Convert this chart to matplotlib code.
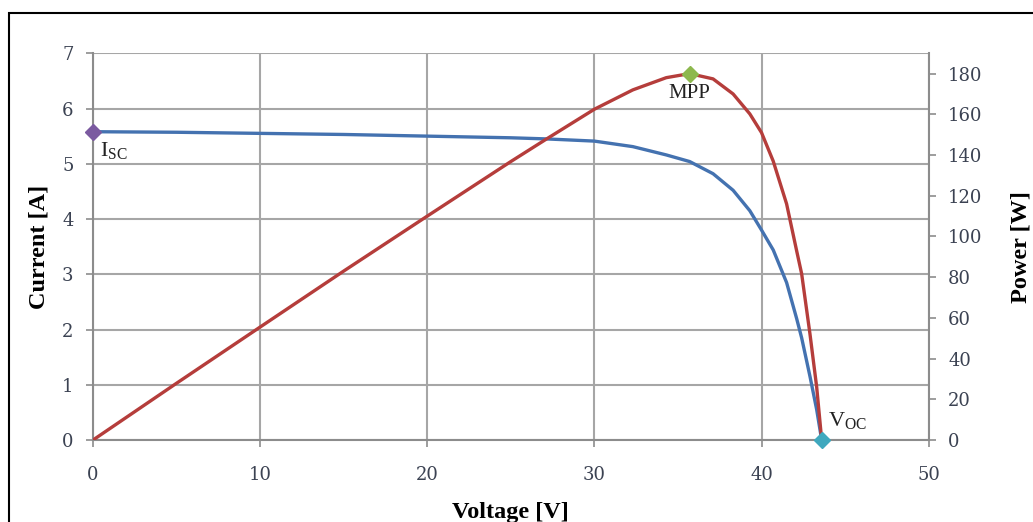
import matplotlib.pyplot as plt
from matplotlib.patches import Rectangle

plt.rcParams['font.family'] = ['Liberation Serif', 'DejaVu Serif']
plt.rcParams['mathtext.fontset'] = 'custom'
plt.rcParams['mathtext.rm'] = 'Liberation Serif'

# values
voltage = [0, 5, 10, 15, 20, 25, 27.1, 30, 32.3, 34.3, 35.7, 37.1, 38.3, 39.3,
           40, 40.7, 41.5, 42.1, 42.4, 42.9, 43.3, 43.6]
current = [5.58, 5.57, 5.55, 5.53, 5.50, 5.47, 5.45, 5.41, 5.31, 5.16, 5.04, 4.82,
           4.52, 4.15, 3.80, 3.44, 2.85, 2.20, 1.85, 1.15, 0.55, 0]
power = [0, 27.9, 55.5, 83, 110, 136.8, 147.7, 162.5, 172, 178, 180, 177.4,
         170, 160.2, 151, 137, 116, 93, 81.7, 52, 26, 0]

isc = (0, 5.58)
mpp = (35.7, 180)
voc = (43.6, 0)

tick_color = '#3b4252'
grid_color = '#a6a6a6'
tick_font = ['DejaVu Serif']

fig = plt.figure(figsize=(10.33, 5.22), dpi=100)
ax = fig.add_axes([0.090, 0.157, 0.809, 0.741])
ax2 = ax.twinx()

# border around the whole chart
fig.patches.append(Rectangle((9 / 1033, -0.1), 1.2, 1 - 13 / 522 + 0.1,
                             transform=fig.transFigure, fill=False,
                             edgecolor='black', linewidth=1.5))

ax.plot(voltage, current, color='#4472b0', linewidth=2.4, zorder=3,
        solid_joinstyle='round')
ax2.plot(voltage, power, color='#b53d3b', linewidth=2.4, zorder=3,
         solid_joinstyle='round')

ax.plot(*isc, marker='D', color='#7b5aa0', markersize=8, clip_on=False, zorder=5)
ax2.plot(*mpp, marker='D', color='#8db84e', markersize=8, clip_on=False, zorder=5)
ax2.plot(*voc, marker='D', color='#3fa8be', markersize=8, clip_on=False, zorder=5)

ax.text(0.45, 5.42, r'I$_{\mathrm{SC}}$', fontsize=16, va='top', ha='left', color='#222222')
ax2.text(mpp[0], 175, 'MPP', fontsize=15, va='top', ha='center', color='#222222')
ax2.text(44.0, 4, r'V$_{\mathrm{OC}}$', fontsize=16, va='bottom', ha='left', color='#222222')

ax.set_xlim(0, 50)
ax.set_ylim(0, 7)
ax2.set_ylim(0, 190)
ax.set_xticks(range(0, 51, 10))
ax.set_yticks(range(0, 8))
ax2.set_yticks(range(0, 181, 20))

ax.grid(True, color=grid_color, linewidth=1.5)
ax.set_axisbelow(True)

for a in (ax, ax2):
    a.spines['top'].set_visible(False)
    for s in ('left', 'right', 'bottom'):
        a.spines[s].set_color('#8c8c8c')
        a.spines[s].set_linewidth(1.5)
    a.tick_params(direction='out', length=5, width=1.2, color='#8c8c8c',
                  labelsize=13, labelcolor=tick_color, pad=9)
    for lab in a.get_xticklabels() + a.get_yticklabels():
        lab.set_family(tick_font)
ax.tick_params(axis='x', pad=14)
ax.spines['right'].set_visible(False)
ax2.spines['left'].set_visible(False)
ax2.spines['bottom'].set_visible(False)

ax.set_xlabel('Voltage [V]', fontsize=17.5, fontweight='bold', labelpad=13)
ax.set_ylabel('Current [A]', fontsize=17.5, fontweight='bold', labelpad=9)
ax2.set_ylabel('Power [W]', fontsize=17.5, fontweight='bold', labelpad=20)

fig.savefig('out.png', dpi=100)
